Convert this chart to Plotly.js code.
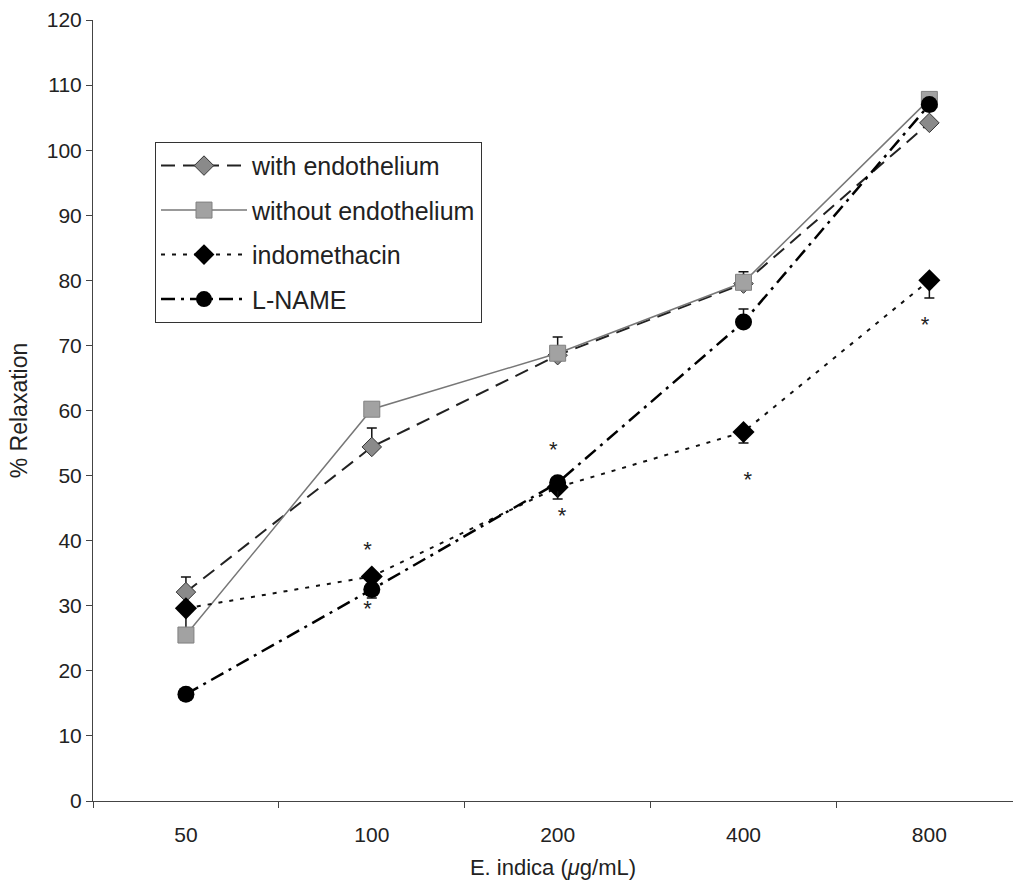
<!DOCTYPE html>
<html>
<head>
<meta charset="utf-8">
<script src="https://cdn.plot.ly/plotly-3.0.1.min.js"></script>
<style>html,body{margin:0;padding:0;background:#fff;}#chart{width:1013px;height:884px;}</style>
</head>
<body>
<div id="chart"></div>
<script>
// ---- data ----
const concentrations = ["50", "100", "200", "400", "800"];

const withEndothelium = [32.1, 54.4, 68.5, 79.5, 104.2];
const withEndotheliumErrPlus = [2.3, 2.9, 0.6, 0.6, 0.6];
const withEndotheliumErrMinus = [0, 0, 0, 0, 0];

const withoutEndothelium = [25.5, 60.2, 68.8, 79.7, 107.8];
const withoutEndotheliumErrPlus = [3.5, 0.6, 2.5, 1.6, 0.6];
const withoutEndotheliumErrMinus = [0, 0, 0, 0, 0];

const indomethacin = [29.6, 34.5, 48.2, 56.7, 80.0];
const indomethacinErrPlus = [0, 0, 0, 0, 0];
const indomethacinErrMinus = [0.6, 0.6, 0.6, 1.7, 2.7];

const lName = [16.4, 32.5, 48.9, 73.6, 107.0];
const lNameErrPlus = [0, 0, 0, 2.0, 0];
const lNameErrMinus = [0.6, 1.3, 2.5, 0, 1.0];

// significance asterisks (category, value)
const starCategories = ["100", "100", "200", "200", "400", "800"];
const starValues = [38.3, 29.3, 53.7, 43.6, 49.1, 72.9];
const starText = ["*", "*", "*", "*", "*", "*"];

const seriesNames = ["with endothelium", "without endothelium", "indomethacin", "L-NAME"];

// ---- traces ----
const font = "Liberation Sans, Arial, sans-serif";

function errBar(plus, minus) {
  return {type: "data", symmetric: false, array: plus, arrayminus: minus,
          color: "#111", thickness: 1.5, width: 5};
}

const traces = [
  {
    x: concentrations, y: withEndothelium, name: seriesNames[0], legendgroup: "a",
    mode: "lines+markers", type: "scatter",
    line: {color: "#222", width: 2, dash: "14px,8px"},
    marker: {symbol: "diamond", size: 15, color: "#8a8a8a", line: {color: "#333", width: 1}},
    error_y: errBar(withEndotheliumErrPlus, withEndotheliumErrMinus)
  },
  {
    x: concentrations, y: withoutEndothelium, name: seriesNames[1], legendgroup: "b",
    mode: "lines+markers", type: "scatter",
    line: {color: "#777", width: 1.5},
    marker: {symbol: "square", size: 16, color: "#a2a2a2", line: {color: "#808080", width: 1}},
    error_y: errBar(withoutEndotheliumErrPlus, withoutEndotheliumErrMinus)
  },
  {
    x: concentrations, y: indomethacin, name: seriesNames[2], legendgroup: "c",
    mode: "lines+markers", type: "scatter",
    line: {color: "#111", width: 2, dash: "4px,7px"},
    marker: {symbol: "diamond", size: 17, color: "#000"},
    error_y: errBar(indomethacinErrPlus, indomethacinErrMinus)
  },
  {
    x: concentrations, y: lName, name: seriesNames[3], legendgroup: "d",
    mode: "lines+markers", type: "scatter",
    line: {color: "#000", width: 2.5, dash: "14px,6px,3px,6px"},
    marker: {symbol: "circle", size: 17, color: "#000"},
    error_y: errBar(lNameErrPlus, lNameErrMinus)
  },
  {
    x: starCategories, y: starValues, text: starText, mode: "text", type: "scatter",
    textposition: ["middle left", "middle left", "middle left", "middle right", "middle right", "middle left"],
    textfont: {family: font, size: 22, color: "#222"},
    showlegend: false, hoverinfo: "skip"
  }
];

const layout = {
  width: 1013, height: 884,
  margin: {l: 93, r: 0, t: 20, b: 83},
  paper_bgcolor: "#fff", plot_bgcolor: "#fff",
  font: {family: font, color: "#222", size: 21},
  showlegend: true,
  legend: {
    x: 0.0674, y: 0.844, xanchor: "left", yanchor: "top",
    bgcolor: "#fff", bordercolor: "#333", borderwidth: 1,
    font: {family: font, size: 25, color: "#222"},
    traceorder: "grouped", tracegroupgap: 9, itemwidth: 86
  },
  xaxis: {
    type: "category", range: [-0.5, 4.45],
    showgrid: false, zeroline: false, showline: true, linecolor: "#444", linewidth: 1,
    ticks: "outside", ticklen: 6, tickcolor: "#444", tickson: "boundaries",
    ticklabelstandoff: 15,
    tickfont: {family: font, size: 21, color: "#222"},
    title: {text: "E. indica (<i>μ</i>g/mL)", font: {family: font, size: 22, color: "#222"}, standoff: 14}
  },
  yaxis: {
    range: [0, 120], dtick: 10,
    showgrid: false, zeroline: false, showline: true, linecolor: "#444", linewidth: 1,
    ticks: "outside", ticklen: 6, tickcolor: "#444",
    tickfont: {family: font, size: 21, color: "#222"},
    title: {text: "% Relaxation", font: {family: font, size: 23, color: "#222"}, standoff: 12}
  }
};

Plotly.newPlot("chart", traces, layout, {displayModeBar: false, staticPlot: true});
</script>
</body>
</html>
